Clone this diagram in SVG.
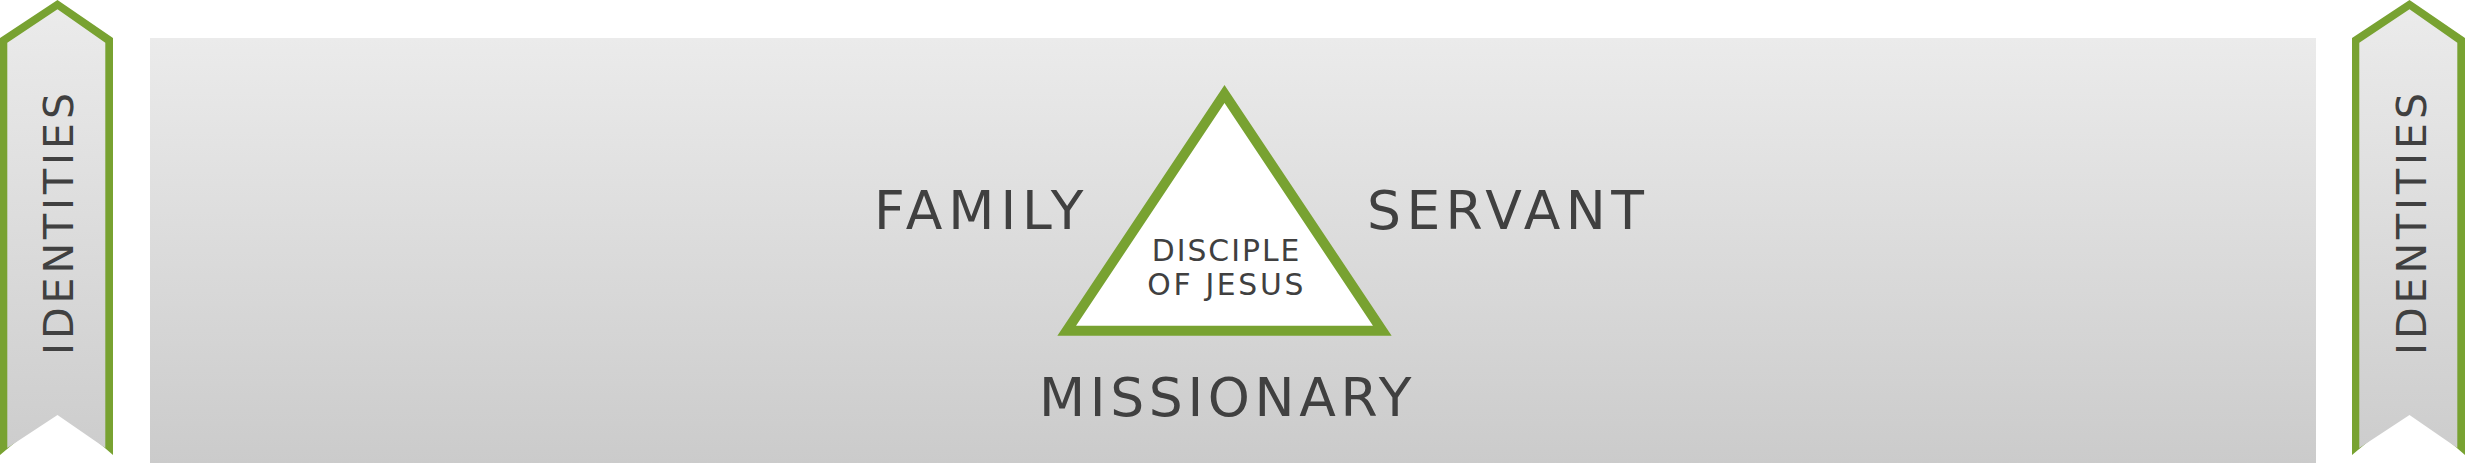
<svg xmlns="http://www.w3.org/2000/svg" width="2465" height="463" viewBox="0 0 2465 463">
  <defs>
    <linearGradient id="bg" x1="0" y1="0" x2="0" y2="1">
      <stop offset="0" stop-color="#ebebeb"/>
      <stop offset="1" stop-color="#cbcbcb"/>
    </linearGradient>
    <linearGradient id="rib" x1="0" y1="0" x2="0" y2="1">
      <stop offset="0" stop-color="#ebebeb"/>
      <stop offset="1" stop-color="#cdcdcd"/>
    </linearGradient>
    <style>
      .lbl { font-family: "DejaVu Sans", "Liberation Sans", Arial, sans-serif; fill: #404040; text-anchor: middle; }
      .big { font-size: 53.5px; }
      .small { font-size: 29.8px; }
      .side { font-size: 41px; }
      .green { fill: #78a231; }
    </style>
  </defs>
  <rect width="2465" height="463" fill="#ffffff"/>

  <g id="panel">
    <rect x="150" y="38" width="2166" height="425" fill="url(#bg)"/>
  </g>

  <g id="ribbon-left">
    <polygon class="green" points="0,38 57.5,0 113,38 113,455 57.5,407 0,455"/>
    <polygon fill="url(#rib)" points="7.3,42.7 57.5,9.3 105.3,42.7 105.3,448 57.5,415 7.3,448"/>
    <text class="lbl side" transform="translate(58,224) rotate(-90)" x="0" y="15" textLength="262" lengthAdjust="spacing">IDENTITIES</text>
  </g>

  <g id="ribbon-right">
    <polygon class="green" points="2352,38 2409.5,0 2465,38 2465,455 2409.5,407 2352,455"/>
    <polygon fill="url(#rib)" points="2359.3,42.7 2409.5,9.3 2457.3,42.7 2457.3,448 2409.5,415 2359.3,448"/>
    <text class="lbl side" transform="translate(2410.5,224) rotate(-90)" x="0" y="15" textLength="262" lengthAdjust="spacing">IDENTITIES</text>
  </g>

  <g id="triangle">
    <polygon points="1224.5,94 1382.3,330.7 1066.7,330.7" fill="#ffffff" stroke="#78a231" stroke-width="10" stroke-linejoin="miter" stroke-miterlimit="10"/>
    <text class="lbl small" x="1225.5" y="261" textLength="147.6" lengthAdjust="spacing">DISCIPLE</text>
    <text class="lbl small" x="1225.3" y="294.5" textLength="156" lengthAdjust="spacing">OF JESUS</text>
  </g>

  <g id="family">
    <text class="lbl big" x="978.7" y="229.3" textLength="209.3" lengthAdjust="spacing">FAMILY</text>
  </g>
  <g id="servant">
    <text class="lbl big" x="1505.5" y="229.3" textLength="277" lengthAdjust="spacing">SERVANT</text>
  </g>
  <g id="missionary">
    <text class="lbl big" x="1225.3" y="416" textLength="372.5" lengthAdjust="spacing">MISSIONARY</text>
  </g>

  <g id="connectors"/>
</svg>
